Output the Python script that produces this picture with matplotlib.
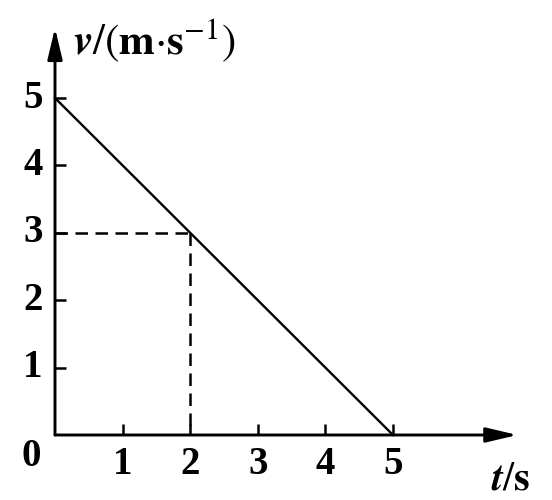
import matplotlib
matplotlib.use("Agg")
import matplotlib.pyplot as plt

# data
t_vals = [0, 5]
v_vals = [5, 0]
t_mark = 2
v_mark = 3
x_ticks = [1, 2, 3, 4, 5]
y_ticks = [1, 2, 3, 4, 5]
x_tick_labels = ["1", "2", "3", "4", "5"]
y_tick_labels = ["1", "2", "3", "4", "5"]

plt.rcParams['mathtext.fontset'] = 'stix'
serif = ['Liberation Serif', 'DejaVu Serif']

fig = plt.figure(figsize=(5.52, 5.00), dpi=100)
ax = fig.add_axes([0, 0, 1, 1])
ax.set_xlim(-55 / 67.6, (552 - 55) / 67.6)
ax.set_ylim(-65 / 67.4, 435 / 67.4)
ax.axis('off')

lw_axis = 2.1
astyle = '-|>,head_length=1.9,head_width=0.45'
# axes with arrows
ax.annotate('', xy=(6.84, 0), xytext=(0, 0),
            arrowprops=dict(arrowstyle=astyle, mutation_scale=10,
                            color='black', lw=lw_axis, shrinkA=0, shrinkB=0))
ax.annotate('', xy=(0, 6.04), xytext=(0, 0),
            arrowprops=dict(arrowstyle=astyle, mutation_scale=10,
                            color='black', lw=lw_axis, shrinkA=0, shrinkB=0))

# ticks
tl = 0.16
for x, lab in zip(x_ticks, x_tick_labels):
    ax.plot([x, x], [0, tl], color='black', lw=1.8, solid_capstyle='butt')
    ax.text(x, -0.17, lab, ha='center', va='top', fontsize=28, family=serif,
            weight='bold')
for y, lab in zip(y_ticks, y_tick_labels):
    ax.plot([0, tl], [y, y], color='black', lw=1.8, solid_capstyle='butt')
    ax.text(-0.18, y, lab, ha='right', va='center', fontsize=28, family=serif,
            weight='bold')
ax.text(-0.2, -0.05, "0", ha='right', va='top', fontsize=28, family=serif,
        weight='bold')

# main line
ax.plot(t_vals, v_vals, color='black', lw=1.7)

# dashed guides
ax.plot([0, t_mark], [v_mark, v_mark], color='black', lw=1.8, ls=(0, (5, 3.0)))
ax.plot([t_mark, t_mark], [v_mark, 0], color='black', lw=1.8, ls=(0, (5, 3.0)))

# axis labels
ax.text(0.26, 5.86, r'$\boldsymbol{v}/(\mathbf{m}{\cdot}\mathbf{s}^{-1})$',
        ha='left', va='center', fontsize=31)
ax.text(6.45, -0.64, r'$\boldsymbol{t}/\mathbf{s}$', ha='left', va='center',
        fontsize=29)

fig.savefig('out.png', dpi=100)
